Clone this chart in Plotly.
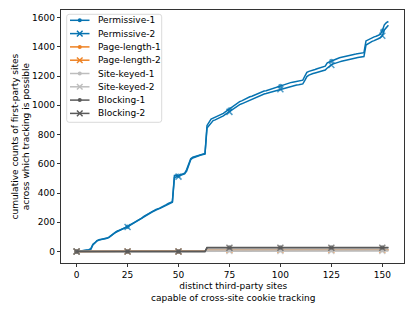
import plotly.graph_objects as go

# ---------------- data ----------------
x_sites = list(range(154))

permissive_1 = [0, 2, 3, 5, 6, 8, 12,
                20, 50, 60, 75,
                80, 82, 85, 88, 92,
                100, 110, 125, 132, 140,
                145, 150, 158, 163, 170,
                180, 190, 198, 205, 213,
                220, 228, 240, 248, 258,
                265, 272, 280, 288, 292,
                298, 305, 312, 320, 328,
                335, 340,
                520,
                522, 518, 525, 530, 535,
                560, 600, 635, 645,
                650, 655, 660, 665, 668, 670,
                862,
                880, 905, 912, 918, 925,
                930, 935, 945, 955, 965, 972,
                985, 995, 1008, 1018, 1025,
                1030, 1038, 1045, 1052, 1058, 1062,
                1068, 1075, 1082, 1088, 1092, 1098,
                1100, 1105, 1108, 1112, 1118, 1125,
                1128, 1132, 1138, 1142, 1148, 1152,
                1155, 1158, 1160, 1162, 1165, 1168, 1172,
                1200, 1225, 1232, 1238,
                1242, 1245, 1250, 1255, 1258, 1262, 1268,
                1290, 1298, 1302, 1308, 1315,
                1320, 1325, 1328, 1332, 1336, 1340,
                1342, 1345, 1348, 1350, 1352, 1355, 1358, 1360,
                1440, 1448, 1455, 1462, 1468, 1472,
                1478, 1485, 1510, 1550, 1565, 1573]

permissive_2 = [0, 1, 3, 4, 6, 7, 10,
                15, 45, 58, 72,
                78, 80, 84, 87, 90,
                97, 108, 122, 130, 137,
                143, 148, 155, 160, 167,
                177, 186, 195, 202, 210,
                217, 225, 236, 245, 255,
                262, 270, 277, 285, 290,
                295, 302, 308, 316, 324,
                330, 336,
                505,
                510, 512, 518, 524, 530,
                550, 590, 628, 640,
                646, 650, 655, 660, 664, 666,
                845,
                862, 885, 895, 900, 906,
                912, 918, 928, 938, 948, 955,
                965, 975, 988, 998, 1005,
                1010, 1016, 1024, 1032, 1038, 1042,
                1047, 1054, 1060, 1066, 1072, 1077,
                1080, 1084, 1088, 1092, 1097, 1102,
                1106, 1110, 1115, 1119, 1123, 1127,
                1130, 1133, 1136, 1139, 1141, 1143, 1146,
                1170, 1196, 1206, 1213,
                1217, 1221, 1225, 1229, 1233, 1236, 1241,
                1255, 1268, 1276, 1283, 1289,
                1293, 1297, 1301, 1305, 1309, 1313,
                1316, 1319, 1321, 1324, 1327, 1329, 1331, 1333,
                1412, 1422, 1430, 1437, 1442, 1447,
                1455, 1463, 1475, 1515, 1535, 1548]

page_length_1 = [0] * 55 + [5] * 9 + [12] * 90
page_length_2 = [0] * 56 + [4] * 8 + [10] * 90
site_keyed_1 = [0] * 64 + [10] * 90
site_keyed_2 = [0] * 64 + [3] * 90
blocking_1 = [0] * 64 + [27] * 90
blocking_2 = [0] * 64 + [25] * 90

series_names = ["Permissive-1", "Permissive-2", "Page-length-1", "Page-length-2",
                "Site-keyed-1", "Site-keyed-2", "Blocking-1", "Blocking-2"]
series_values = [permissive_1, permissive_2, page_length_1, page_length_2,
                 site_keyed_1, site_keyed_2, blocking_1, blocking_2]

x_ticks = [0, 25, 50, 75, 100, 125, 150]
y_ticks = [0, 200, 400, 600, 800, 1000, 1200, 1400, 1600]
x_title = "distinct third-party sites<br>capable of cross-site cookie tracking"
y_title = "cumulative counts of first-party sites<br>across which tracking is possible"

# ---------------- style ----------------
BLUE = "#0673B1"
ORANGE = "#EE8122"
LIGHT = "#BDBDBD"
DARK = "#595959"
colors = [BLUE, BLUE, ORANGE, ORANGE, LIGHT, LIGHT, DARK, DARK]
FONT = "DejaVu Sans"
MARK_EVERY = 25

W, H = 415, 311
L, R, T, B = 61, 404, 10, 263

fig = go.Figure()
for i, (name, vals) in enumerate(zip(series_names, series_values)):
    is_x = (i % 2 == 1)
    base = 6 if is_x else 4.5
    sizes = [base if k % MARK_EVERY == 0 else 0 for k in range(len(vals))]
    fig.add_trace(go.Scatter(
        x=x_sites, y=vals, mode="lines+markers", name=name,
        line=dict(color=colors[i], width=1.5),
        marker=dict(symbol="x-thin" if is_x else "circle", size=sizes,
                    color=colors[i],
                    line=dict(color=colors[i], width=1.5 if is_x else 0)),
        showlegend=False, hoverinfo="skip"))

xmin, xmax = 0, len(x_sites) - 1
ymax = max(max(v) for v in series_values)
xpad = (xmax - xmin) * 0.05
ypad = ymax * 0.05

fig.update_xaxes(range=[xmin - xpad, xmax + xpad], tickvals=x_ticks,
                 showgrid=False, zeroline=False, showline=True, mirror=True,
                 linecolor="black", linewidth=0.8, ticks="outside", ticklen=3.5,
                 tickwidth=0.8, tickcolor="black",
                 tickfont=dict(family=FONT, size=9, color="black"))
fig.update_yaxes(range=[-ypad, ymax + ypad], tickvals=y_ticks,
                 showgrid=False, zeroline=False, showline=True, mirror=True,
                 linecolor="black", linewidth=0.8, ticks="outside", ticklen=3.5,
                 tickwidth=0.8, tickcolor="black",
                 tickfont=dict(family=FONT, size=9, color="black"))

def px(xp):
    return (xp - L) / (R - L)

def py(yp):
    return (B - yp) / (B - T)

shapes = []
annotations = []

# legend box (rounded)
bx0, bx1, by0, by1, rr = 66.7, 161.7, 14.3, 122.3, 2.5
path = (f"M {px(bx0 + rr)},{py(by0)} L {px(bx1 - rr)},{py(by0)} "
        f"Q {px(bx1)},{py(by0)} {px(bx1)},{py(by0 + rr)} "
        f"L {px(bx1)},{py(by1 - rr)} Q {px(bx1)},{py(by1)} {px(bx1 - rr)},{py(by1)} "
        f"L {px(bx0 + rr)},{py(by1)} Q {px(bx0)},{py(by1)} {px(bx0)},{py(by1 - rr)} "
        f"L {px(bx0)},{py(by0 + rr)} Q {px(bx0)},{py(by0)} {px(bx0 + rr)},{py(by0)} Z")
shapes.append(dict(type="path", xref="paper", yref="paper", path=path,
                   line=dict(color="#D0D0D0", width=0.8),
                   fillcolor="rgba(255,255,255,0.8)", layer="above"))

row0, row_step = 20.3, 13.3
lx0, lx1, tx = 70, 89.5, 95.5
for i, name in enumerate(series_names):
    yy = row0 + i * row_step
    c = colors[i]
    shapes.append(dict(type="line", xref="paper", yref="paper",
                       x0=px(lx0), x1=px(lx1), y0=py(yy), y1=py(yy),
                       line=dict(color=c, width=1.5), layer="above"))
    cx = (lx0 + lx1) / 2
    if i % 2 == 1:
        d = 2.8
        for s in (1, -1):
            shapes.append(dict(type="line", xref="paper", yref="paper",
                               x0=px(cx - d), x1=px(cx + d),
                               y0=py(yy - s * d), y1=py(yy + s * d),
                               line=dict(color=c, width=1.4), layer="above"))
    else:
        r = 2.0
        shapes.append(dict(type="circle", xref="paper", yref="paper",
                           x0=px(cx - r), x1=px(cx + r), y0=py(yy + r), y1=py(yy - r),
                           fillcolor=c, line=dict(color=c, width=0), layer="above"))
    annotations.append(dict(text=name, xref="paper", yref="paper",
                            x=px(tx), y=py(yy), xanchor="left", yanchor="middle",
                            showarrow=False,
                            font=dict(family=FONT, size=9, color="black")))

# axis titles
annotations.append(dict(text=x_title, xref="paper", yref="paper",
                        x=0.5, y=py(279), xanchor="center", yanchor="top",
                        showarrow=False, align="center",
                        font=dict(family=FONT, size=9, color="black")))
annotations.append(dict(text=y_title, xref="paper", yref="paper",
                        x=px(7), y=0.5, xanchor="left", yanchor="middle",
                        showarrow=False, align="center", textangle=-90,
                        font=dict(family=FONT, size=9, color="black")))

fig.update_layout(
    width=W, height=H,
    margin=dict(l=L, r=W - R, t=T, b=H - B, pad=0),
    paper_bgcolor="white", plot_bgcolor="white",
    showlegend=False,
    shapes=shapes, annotations=annotations,
    font=dict(family=FONT, size=9, color="black"),
)

fig.write_html("out.html",
               config={"displayModeBar": False, "staticPlot": True},
               post_script="document.body.style.margin='0';"
                           "document.body.style.overflow='hidden';")
